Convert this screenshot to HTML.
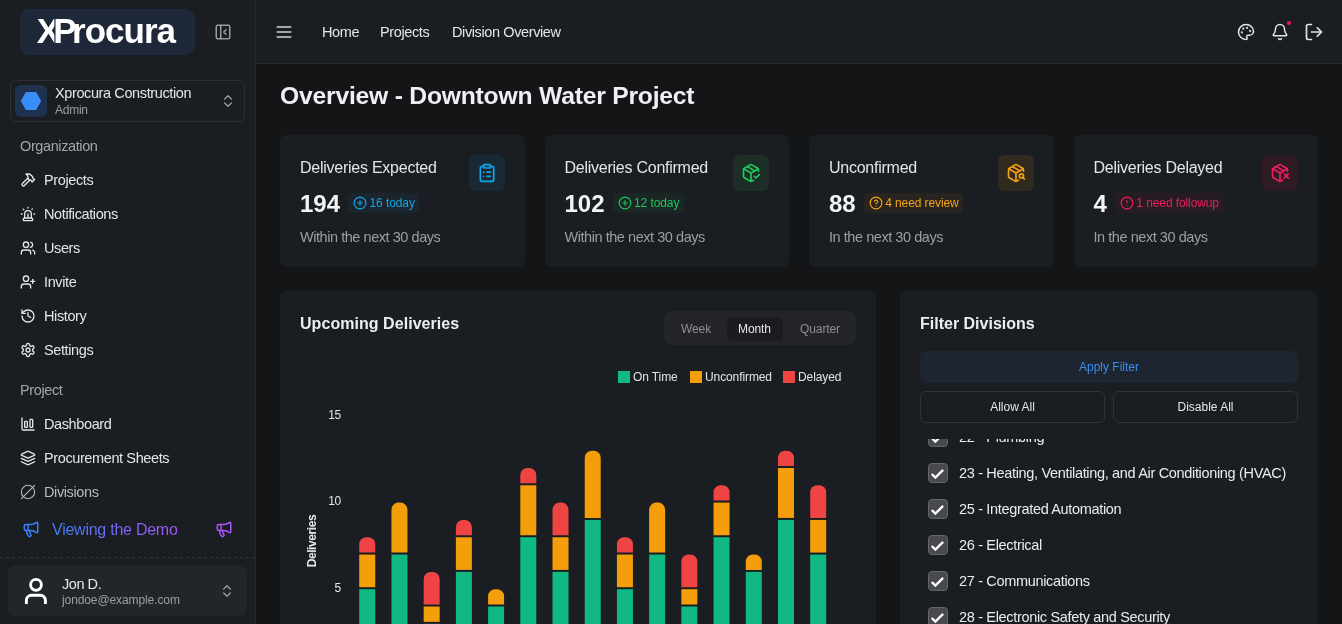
<!DOCTYPE html>
<html><head><meta charset="utf-8"><title>Overview - Downtown Water Project</title>
<style>
*{box-sizing:border-box;margin:0;padding:0}
html,body{width:1342px;height:624px;overflow:hidden}
body{-webkit-font-smoothing:antialiased;letter-spacing:-0.25px;background:#141517;font-family:"Liberation Sans",Arial,sans-serif;color:#e4e5e7;position:relative}
.abs{position:absolute}
svg.i{fill:none;stroke:currentColor;stroke-width:2;stroke-linecap:round;stroke-linejoin:round;display:block}
/* sidebar */
#sb{position:absolute;left:0;top:0;width:256px;height:624px;background:#1a1d21;border-right:1px solid #26292d}
#logo{position:absolute;left:20px;top:9px;width:175px;height:46px;background:#1e2838;border-radius:9px}
#logo .lt{position:absolute;left:16.7px;top:1.7px;font-weight:bold;font-size:35px;line-height:normal;color:#fff;letter-spacing:-1px;white-space:nowrap}#logo .lx{margin-right:-5.8px}#logo .lp{margin-right:-3.5px;text-shadow:-1.3px 0 0 #1e2838}
#team{position:absolute;left:10px;top:80px;width:235px;height:42px;border:1px solid #2c2f35;border-radius:6px}
.nav{position:absolute;left:20px;font-size:14.5px;margin-top:-0.45px;color:#e4e5e7;white-space:nowrap;letter-spacing:-0.39px}
.nav svg{position:absolute;left:0;top:0.45px}
.nav span{position:absolute;left:24px;top:0}
.grp{position:absolute;left:20px;font-size:14.5px;margin-top:-0.45px;color:#a3a5aa;letter-spacing:-0.39px}
/* header */
#hd{position:absolute;left:256px;top:0;width:1086px;height:64px;background:#1a1d21;border-bottom:1px solid #26292d}
.hl{position:absolute;top:24px;font-size:14.5px;margin-top:-0.45px;color:#e4e5e7;letter-spacing:-0.39px}
/* cards */
.card{position:absolute;background:#1a1d21;border-radius:6px}
.ct{position:absolute;left:20px;top:24px;font-size:16px;color:#e4e5e7}
.row{position:absolute;left:20px;top:55px;display:flex;align-items:center;gap:8px;height:28px}.cn{font-size:24px;font-weight:bold;color:#f2f3f5;letter-spacing:0}
.cs{position:absolute;left:20px;top:94px;font-size:14.5px;margin-top:-0.45px;color:#9c9ea3;letter-spacing:-0.45px}
.ib{position:absolute;right:20px;top:20px;width:36px;height:36px;border-radius:6px}
.ib svg{position:absolute;left:8px;top:8px}
.bd{position:relative;top:-1px;height:20px;letter-spacing:-0.1px;border-radius:4px;font-size:12px;line-height:20px;padding-left:21.5px;padding-right:4.5px;white-space:nowrap}
.bd svg{position:absolute;left:5px;top:3px}
.seg{font-size:12px;white-space:nowrap;letter-spacing:-0.1px}
.leg{top:370px;font-size:12px;color:#e4e5e7;white-space:nowrap;letter-spacing:-0.1px}
.tick{left:300px;width:41px;text-align:right;font-size:12px;color:#e4e5e7}
.btn{letter-spacing:0;top:391px;width:185px;height:32px;border:1px solid #2f3237;border-radius:6px;font-size:12px;text-align:center;line-height:30px;color:#e4e5e7}
.cb{position:absolute;left:28px;width:20px;height:20px;border-radius:4px;background:#484a4f;border:1px solid #63666b}
.cb svg{position:absolute;left:-1px;top:-1px}
.rt{left:60px;font-size:14.5px;margin-top:-0.45px;color:#eaecef;white-space:nowrap;letter-spacing:-0.33px}
</style></head>
<body><div id="root" style="position:absolute;left:0;top:0;width:1342px;height:624px;will-change:transform">
<div id="sb">
  <div id="logo"><div class="lt"><span class="lx">X</span><span class="lp">P</span>rocura</div></div>
  <svg class="i abs" style="left:214px;top:23px;color:#9a9ca1" width="18" height="18" viewBox="0 0 24 24"><rect width="18" height="18" x="3" y="3" rx="2"/><path d="M9 3v18"/><path d="m16 15-3-3 3-3"/></svg>
  <div id="team">
    <div class="abs" style="left:4px;top:4px;width:32px;height:32px;border-radius:6px;background:#1e3250"></div>
    <svg class="abs" style="left:10px;top:10px" width="20" height="20" viewBox="0 0 20 20"><path d="M5.6 2.1h8.8l4.4 7.9-4.4 7.9h-8.8L1.2 10z" fill="#3b8df9" stroke="#3b8df9" stroke-width="2.4" stroke-linejoin="round"/></svg>
    <div class="abs" style="left:44px;top:4px;font-size:14.5px;margin-top:-0.45px;color:#e4e5e7;white-space:nowrap;letter-spacing:-0.39px">Xprocura Construction</div>
    <div class="abs" style="left:44px;top:22px;font-size:12px;color:#9c9ea3">Admin</div>
    <svg class="i abs" style="left:209px;top:12px;color:#9a9ca1" width="16" height="16" viewBox="0 0 24 24"><path d="m7 15 5 5 5-5"/><path d="m7 9 5-5 5 5"/></svg>
  </div>
  <div class="grp" style="top:138px">Organization</div>
  <div class="nav" style="top:172px"><svg class="i" width="16" height="16" viewBox="0 0 24 24"><path d="m15 12-8.373 8.373a1 1 0 1 1-3-3L12 9"/><path d="m18 15 4-4"/><path d="m21.5 11.5-1.914-1.914A2 2 0 0 1 19 8.172V7l-2.26-2.26a6 6 0 0 0-4.202-1.756L9 2.96l.92.82A6.18 6.18 0 0 1 12 8.4V10l2 2h1.172a2 2 0 0 1 1.414.586L18.5 14.5"/></svg><span>Projects</span></div>
  <div class="nav" style="top:206px"><svg class="i" width="16" height="16" viewBox="0 0 24 24"><path d="M7 18v-6a5 5 0 1 1 10 0v6"/><path d="M5 21a1 1 0 0 0 1 1h12a1 1 0 0 0 1-1v-1a2 2 0 0 0-2-2H7a2 2 0 0 0-2 2z"/><path d="M21 12h1"/><path d="M18.5 4.5 18 5"/><path d="M2 12h1"/><path d="M12 2v1"/><path d="m4.929 4.929.707.707"/><path d="M12 12v6"/></svg><span>Notifications</span></div>
  <div class="nav" style="top:240px"><svg class="i" width="16" height="16" viewBox="0 0 24 24"><path d="M16 21v-2a4 4 0 0 0-4-4H6a4 4 0 0 0-4 4v2"/><circle cx="9" cy="7" r="4"/><path d="M22 21v-2a4 4 0 0 0-3-3.87"/><path d="M16 3.13a4 4 0 0 1 0 7.75"/></svg><span>Users</span></div>
  <div class="nav" style="top:274px"><svg class="i" width="16" height="16" viewBox="0 0 24 24"><path d="M16 21v-2a4 4 0 0 0-4-4H6a4 4 0 0 0-4 4v2"/><circle cx="9" cy="7" r="4"/><path d="M19 8v6"/><path d="M22 11h-6"/></svg><span>Invite</span></div>
  <div class="nav" style="top:308px"><svg class="i" width="16" height="16" viewBox="0 0 24 24"><path d="M3 12a9 9 0 1 0 9-9 9.75 9.75 0 0 0-6.74 2.74L3 8"/><path d="M3 3v5h5"/><path d="M12 7v5l4 2"/></svg><span>History</span></div>
  <div class="nav" style="top:342px"><svg class="i" width="16" height="16" viewBox="0 0 24 24"><path d="M12.22 2h-.44a2 2 0 0 0-2 2v.18a2 2 0 0 1-1 1.73l-.43.25a2 2 0 0 1-2 0l-.15-.08a2 2 0 0 0-2.730.73l-.22.38a2 2 0 0 0 .73 2.73l.15.1a2 2 0 0 1 1 1.72v.51a2 2 0 0 1-1 1.740l-.15.09a2 2 0 0 0-.73 2.73l.22.38a2 2 0 0 0 2.73.73l.15-.08a2 2 0 0 1 2 0l.43.25a2 2 0 0 1 1 1.73V20a2 2 0 0 0 2 2h.44a2 2 0 0 0 2-2v-.18a2 2 0 0 1 1-1.73l.43-.25a2 2 0 0 1 2 0l.15.08a2 2 0 0 0 2.73-.73l.22-.39a2 2 0 0 0-.73-2.73l-.15-.08a2 2 0 0 1-1-1.74v-.5a2 2 0 0 1 1-1.74l.15-.09a2 2 0 0 0 .73-2.73l-.22-.38a2 2 0 0 0-2.73-.73l-.15.08a2 2 0 0 1-2 0l-.43-.25a2 2 0 0 1-1-1.73V4a2 2 0 0 0-2-2z"/><circle cx="12" cy="12" r="3"/></svg><span>Settings</span></div>
  <div class="grp" style="top:382px">Project</div>
  <div class="nav" style="top:416px"><svg class="i" width="16" height="16" viewBox="0 0 24 24"><path d="M3 3v16a2 2 0 0 0 2 2h16"/><rect x="15" y="5" width="4" height="12" rx="1"/><rect x="7" y="8" width="4" height="9" rx="1"/></svg><span>Dashboard</span></div>
  <div class="nav" style="top:450px"><svg class="i" width="16" height="16" viewBox="0 0 24 24"><path d="M12.83 2.18a2 2 0 0 0-1.66 0L2.6 6.08a1 1 0 0 0 0 1.83l8.58 3.91a2 2 0 0 0 1.66 0l8.58-3.9a1 1 0 0 0 0-1.83Z"/><path d="m22 17.65-9.17 4.16a2 2 0 0 1-1.66 0L2 17.65"/><path d="m22 12.65-9.17 4.16a2 2 0 0 1-1.66 0L2 12.65"/></svg><span>Procurement Sheets</span></div>
  <div class="nav" style="top:484px;color:#b8babe"><svg class="i" width="16" height="16" viewBox="0 0 24 24" style="stroke-width:1.6"><circle cx="12" cy="12" r="10"/><path d="M22 2 2 22"/></svg><span>Divisions</span></div>
  <svg class="i abs" style="left:22px;top:520px;color:#3b82f6" width="18" height="18" viewBox="0 0 24 24"><path d="M11 6a13 13 0 0 0 8.4-2.8A1 1 0 0 1 21 4v12a1 1 0 0 1-1.6.8A13 13 0 0 0 11 14H5a2 2 0 0 1-2-2V8a2 2 0 0 1 2-2z"/><path d="M6 14a12 12 0 0 0 2.4 7.2 2 2 0 0 0 3.2-2.4A8 8 0 0 1 10 14"/><path d="M8 6v8"/></svg>
  <div class="abs" style="left:52px;top:521px;font-size:16px;white-space:nowrap;background:linear-gradient(90deg,#3b82f6,#a855f7);-webkit-background-clip:text;background-clip:text;color:transparent">Viewing the Demo</div>
  <svg class="i abs" style="left:215px;top:520px;color:#a855f7" width="18" height="18" viewBox="0 0 24 24"><path d="M11 6a13 13 0 0 0 8.4-2.8A1 1 0 0 1 21 4v12a1 1 0 0 1-1.6.8A13 13 0 0 0 11 14H5a2 2 0 0 1-2-2V8a2 2 0 0 1 2-2z"/><path d="M6 14a12 12 0 0 0 2.4 7.2 2 2 0 0 0 3.2-2.4A8 8 0 0 1 10 14"/><path d="M8 6v8"/></svg>
  <div class="abs" style="left:0;top:557px;width:255px;height:1px;background:repeating-linear-gradient(90deg,#303338 0 3px,transparent 3px 6px)"></div>
  <div class="abs" style="left:8px;top:566px;width:239px;height:50px;background:#22252a;border-radius:7px">
    <svg class="abs" style="left:-8px;top:-566px" width="60" height="624" viewBox="0 0 60 624" fill="none" stroke="#fff" stroke-width="2.9"><circle cx="36" cy="584.8" r="5.4"/><path d="M26.4 604V600.2A5 5 0 0 1 31.4 595.2H40.4A5 5 0 0 1 45.4 600.2V604"/></svg>
    <div class="abs" style="left:54px;top:10px;font-size:14.5px;margin-top:-0.45px;letter-spacing:-0.45px;color:#e4e5e7">Jon D.</div>
    <div class="abs" style="left:54px;top:27px;font-size:12px;color:#9c9ea3;letter-spacing:-0.1px">jondoe@example.com</div>
    <svg class="i abs" style="left:211px;top:17px;color:#9a9ca1" width="16" height="16" viewBox="0 0 24 24"><path d="m7 15 5 5 5-5"/><path d="m7 9 5-5 5 5"/></svg>
  </div>
</div>
<div id="hd">
  <svg class="i abs" style="left:18px;top:22px;color:#d4d5d8" width="20" height="20" viewBox="0 0 24 24"><path d="M4 12h16"/><path d="M4 6h16"/><path d="M4 18h16"/></svg>
  <div class="hl" style="left:66px">Home</div>
  <div class="hl" style="left:124px">Projects</div>
  <div class="hl" style="left:196px">Division Overview</div>
  <svg class="i abs" style="left:981px;top:23px;color:#e4e5e7" width="18" height="18" viewBox="0 0 24 24"><circle cx="13.5" cy="6.5" r=".5" fill="currentColor"/><circle cx="17.5" cy="10.5" r=".5" fill="currentColor"/><circle cx="8.5" cy="7.5" r=".5" fill="currentColor"/><circle cx="6.5" cy="12.5" r=".5" fill="currentColor"/><path d="M12 2C6.5 2 2 6.5 2 12s4.5 10 10 10c.926 0 1.648-.746 1.648-1.688 0-.437-.18-.835-.437-1.125-.29-.289-.438-.652-.438-1.125a1.640 1.640 0 0 1 1.668-1.668h1.996c3.051 0 5.555-2.503 5.555-5.554C21.965 6.012 17.461 2 12 2z"/></svg>
  <svg class="i abs" style="left:1014.5px;top:23px;color:#e4e5e7" width="18" height="18" viewBox="0 0 24 24"><path d="M10.268 21a2 2 0 0 0 3.464 0"/><path d="M3.262 15.326A1 1 0 0 0 4 17h16a1 1 0 0 0 .74-1.673C19.41 13.956 18 12.499 18 8A6 6 0 0 0 6 8c0 4.499-1.411 5.956-2.738 7.326"/></svg>
  <div class="abs" style="left:1030.8px;top:20.8px;width:4.4px;height:4.4px;border-radius:50%;background:#f0145a"></div>
  <svg class="i abs" style="left:1048px;top:22px;color:#e4e5e7" width="20" height="20" viewBox="0 0 24 24"><path d="M9 21H5a2 2 0 0 1-2-2V5a2 2 0 0 1 2-2h4"/><path d="m16 17 5-5-5-5"/><path d="M21 12H9"/></svg>
</div>
<div class="abs" style="left:280px;top:82px;font-size:24.7px;font-weight:bold;color:#eef0f3;white-space:nowrap;letter-spacing:-0.22px">Overview - Downtown Water Project</div>
<div class="card" style="left:280px;top:135px;width:244.5px;height:132px">
  <div class="ct">Deliveries Expected</div>
  <div class="ib" style="background:#192a35;color:#12a6ec"><svg class="i" width="20" height="20" viewBox="0 0 24 24"><rect width="8" height="4" x="8" y="2" rx="1" ry="1"/><path d="M16 4h2a2 2 0 0 1 2 2v14a2 2 0 0 1-2 2H6a2 2 0 0 1-2-2V6a2 2 0 0 1 2-2h2"/><path d="M12 11h4"/><path d="M12 16h4"/><path d="M8 11h.01"/><path d="M8 16h.01"/></svg></div>
  <div class="row"><div class="cn">194</div><div class="bd" style="background:#1a252d;color:#12a6ec"><svg class="i" width="14" height="14" viewBox="0 0 24 24"><circle cx="12" cy="12" r="10"/><path d="M8 12h8"/><path d="M12 8v8"/></svg>16 today</div></div>
  <div class="cs">Within the next 30 days</div>
</div>
<div class="card" style="left:544.5px;top:135px;width:244.5px;height:132px">
  <div class="ct">Deliveries Confirmed</div>
  <div class="ib" style="background:#1c2e26;color:#1dc85c"><svg class="i" width="20" height="20" viewBox="0 0 24 24"><path d="m16 16 2 2 4-4"/><path d="M21 10V8a2 2 0 0 0-1-1.73l-7-4a2 2 0 0 0-2 0l-7 4A2 2 0 0 0 3 8v8a2 2 0 0 0 1 1.73l7 4a2 2 0 0 0 2 0l2-1.14"/><path d="m7.5 4.27 9 5.15"/><path d="M3.29 7 12 12l8.71-5"/><path d="M12 22V12"/></svg></div>
  <div class="row"><div class="cn">102</div><div class="bd" style="background:#1b2724;color:#1dc85c"><svg class="i" width="14" height="14" viewBox="0 0 24 24"><circle cx="12" cy="12" r="10"/><path d="M8 12h8"/><path d="M12 8v8"/></svg>12 today</div></div>
  <div class="cs">Within the next 30 days</div>
</div>
<div class="card" style="left:809px;top:135px;width:244.5px;height:132px">
  <div class="ct">Unconfirmed</div>
  <div class="ib" style="background:#312a1f;color:#f5a314"><svg class="i" width="20" height="20" viewBox="0 0 24 24"><path d="M21 10V8a2 2 0 0 0-1-1.73l-7-4a2 2 0 0 0-2 0l-7 4A2 2 0 0 0 3 8v8a2 2 0 0 0 1 1.73l7 4a2 2 0 0 0 2 0l2-1.14"/><path d="m7.5 4.27 9 5.15"/><path d="M3.29 7 12 12l8.71-5"/><path d="M12 22V12"/><circle cx="18.5" cy="15.5" r="2.5"/><path d="M20.27 17.27 22 19"/></svg></div>
  <div class="row"><div class="cn">88</div><div class="bd" style="background:#28241f;color:#f5a314"><svg class="i" width="14" height="14" viewBox="0 0 24 24"><circle cx="12" cy="12" r="10"/><path d="M9.09 9a3 3 0 0 1 5.83 1c0 2-3 3-3 3"/><path d="M12 17h.01"/></svg>4 need review</div></div>
  <div class="cs">In the next 30 days</div>
</div>
<div class="card" style="left:1073.5px;top:135px;width:244.5px;height:132px">
  <div class="ct">Deliveries Delayed</div>
  <div class="ib" style="background:#2f1b24;color:#ee1d62"><svg class="i" width="20" height="20" viewBox="0 0 24 24"><path d="M21 10V8a2 2 0 0 0-1-1.73l-7-4a2 2 0 0 0-2 0l-7 4A2 2 0 0 0 3 8v8a2 2 0 0 0 1 1.73l7 4a2 2 0 0 0 2 0l2-1.14"/><path d="m7.5 4.27 9 5.15"/><path d="M3.29 7 12 12l8.71-5"/><path d="M12 22V12"/><path d="m17 13 5 5m-5 0 5-5"/></svg></div>
  <div class="row"><div class="cn">4</div><div class="bd" style="background:#281c23;color:#ee1d62"><svg class="i" width="14" height="14" viewBox="0 0 24 24"><circle cx="12" cy="12" r="10"/><path d="M12 8v4"/><path d="M12 16h.01"/></svg>1 need followup</div></div>
  <div class="cs">In the next 30 days</div>
</div>
<div class="card" style="left:280px;top:291px;width:596px;height:400px;border-radius:6px"></div>
<div class="abs" style="left:300px;top:315px;font-size:16px;font-weight:bold;color:#eceef0;white-space:nowrap;letter-spacing:0.05px">Upcoming Deliveries</div>
<div class="abs" style="left:664px;top:311px;width:192px;height:34px;background:#222429;border-radius:8px">
  <div class="abs" style="left:63px;top:6px;width:56px;height:24px;background:#1a1c20;border-radius:6px"></div>
  <div class="abs seg" style="left:17px;top:11px;color:#8e9096">Week</div>
  <div class="abs seg" style="left:74px;top:11px;color:#e4e5e7">Month</div>
  <div class="abs seg" style="left:136px;top:11px;color:#8e9096">Quarter</div>
</div>
<div class="abs" style="left:618px;top:371px;width:12px;height:12px;background:#10b981"></div>
<div class="abs leg" style="left:633px">On Time</div>
<div class="abs" style="left:690px;top:371px;width:12px;height:12px;background:#f59e0b"></div>
<div class="abs leg" style="left:705px">Unconfirmed</div>
<div class="abs" style="left:783px;top:371px;width:12px;height:12px;background:#ef4444"></div>
<div class="abs leg" style="left:798px">Delayed</div>
<div class="abs tick" style="top:408px">15</div>
<div class="abs tick" style="top:494px">10</div>
<div class="abs tick" style="top:581px">5</div>
<div class="abs" style="left:312px;top:541px;width:0;height:0"><div class="abs" style="left:-30px;top:-7px;width:60px;text-align:center;transform:rotate(-90deg);font-size:12px;font-weight:bold;color:#e4e5e7;letter-spacing:-0.4px">Deliveries</div></div>
<svg class="abs" style="left:0;top:0" width="1342" height="624" viewBox="0 0 1342 624"><rect x="359.25" y="589.20" width="16" height="84.60" fill="#10b981"/><rect x="359.25" y="554.56" width="16" height="32.64" fill="#f59e0b"/><path d="M359.25 552.56V544.24A7 7 0 0 1 366.25 537.24H368.25A7 7 0 0 1 375.25 544.24V552.56Z" fill="#ef4444"/><rect x="391.46" y="554.56" width="16" height="119.24" fill="#10b981"/><path d="M391.46 552.56V509.60A7 7 0 0 1 398.46 502.60H400.46A7 7 0 0 1 407.46 509.60V552.56Z" fill="#f59e0b"/><rect x="423.67" y="623.84" width="16" height="49.96" fill="#10b981"/><rect x="423.67" y="606.52" width="16" height="15.32" fill="#f59e0b"/><path d="M423.67 604.52V578.88A7 7 0 0 1 430.67 571.88H432.67A7 7 0 0 1 439.67 578.88V604.52Z" fill="#ef4444"/><rect x="455.88" y="571.88" width="16" height="101.92" fill="#10b981"/><rect x="455.88" y="537.24" width="16" height="32.64" fill="#f59e0b"/><path d="M455.88 535.24V526.92A7 7 0 0 1 462.88 519.92H464.88A7 7 0 0 1 471.88 526.92V535.24Z" fill="#ef4444"/><rect x="488.09" y="606.52" width="16" height="67.28" fill="#10b981"/><path d="M488.09 604.52V596.20A7 7 0 0 1 495.09 589.20H497.09A7 7 0 0 1 504.09 596.20V604.52Z" fill="#f59e0b"/><rect x="520.30" y="537.24" width="16" height="136.56" fill="#10b981"/><rect x="520.30" y="485.28" width="16" height="49.96" fill="#f59e0b"/><path d="M520.30 483.28V474.96A7 7 0 0 1 527.30 467.96H529.30A7 7 0 0 1 536.30 474.96V483.28Z" fill="#ef4444"/><rect x="552.51" y="571.88" width="16" height="101.92" fill="#10b981"/><rect x="552.51" y="537.24" width="16" height="32.64" fill="#f59e0b"/><path d="M552.51 535.24V509.60A7 7 0 0 1 559.51 502.60H561.51A7 7 0 0 1 568.51 509.60V535.24Z" fill="#ef4444"/><rect x="584.72" y="519.92" width="16" height="153.88" fill="#10b981"/><path d="M584.72 517.92V457.64A7 7 0 0 1 591.72 450.64H593.72A7 7 0 0 1 600.72 457.64V517.92Z" fill="#f59e0b"/><rect x="616.93" y="589.20" width="16" height="84.60" fill="#10b981"/><rect x="616.93" y="554.56" width="16" height="32.64" fill="#f59e0b"/><path d="M616.93 552.56V544.24A7 7 0 0 1 623.93 537.24H625.93A7 7 0 0 1 632.93 544.24V552.56Z" fill="#ef4444"/><rect x="649.14" y="554.56" width="16" height="119.24" fill="#10b981"/><path d="M649.14 552.56V509.60A7 7 0 0 1 656.14 502.60H658.14A7 7 0 0 1 665.14 509.60V552.56Z" fill="#f59e0b"/><rect x="681.35" y="606.52" width="16" height="67.28" fill="#10b981"/><rect x="681.35" y="589.20" width="16" height="15.32" fill="#f59e0b"/><path d="M681.35 587.20V561.56A7 7 0 0 1 688.35 554.56H690.35A7 7 0 0 1 697.35 561.56V587.20Z" fill="#ef4444"/><rect x="713.56" y="537.24" width="16" height="136.56" fill="#10b981"/><rect x="713.56" y="502.60" width="16" height="32.64" fill="#f59e0b"/><path d="M713.56 500.60V492.28A7 7 0 0 1 720.56 485.28H722.56A7 7 0 0 1 729.56 492.28V500.60Z" fill="#ef4444"/><rect x="745.77" y="571.88" width="16" height="101.92" fill="#10b981"/><path d="M745.77 569.88V561.56A7 7 0 0 1 752.77 554.56H754.77A7 7 0 0 1 761.77 561.56V569.88Z" fill="#f59e0b"/><rect x="777.98" y="519.92" width="16" height="153.88" fill="#10b981"/><rect x="777.98" y="467.96" width="16" height="49.96" fill="#f59e0b"/><path d="M777.98 465.96V457.64A7 7 0 0 1 784.98 450.64H786.98A7 7 0 0 1 793.98 457.64V465.96Z" fill="#ef4444"/><rect x="810.19" y="554.56" width="16" height="119.24" fill="#10b981"/><rect x="810.19" y="519.92" width="16" height="32.64" fill="#f59e0b"/><path d="M810.19 517.92V492.28A7 7 0 0 1 817.19 485.28H819.19A7 7 0 0 1 826.19 492.28V517.92Z" fill="#ef4444"/></svg>
<div class="card" style="left:900px;top:291px;width:418px;height:400px;border-radius:6px"></div>
<div class="abs" style="left:920px;top:315px;font-size:16px;font-weight:bold;color:#eceef0;white-space:nowrap;letter-spacing:0px">Filter Divisions</div>
<div class="abs" style="left:920px;top:351px;width:378px;height:32px;background:#1d2530;border-radius:6px;color:#3b8bf0;font-size:12px;letter-spacing:0;text-align:center;line-height:32px">Apply Filter</div>
<div class="abs btn" style="left:920px">Allow All</div>
<div class="abs btn" style="left:1113px">Disable All</div>
<div class="abs" style="left:900px;top:439px;width:418px;height:185px;overflow:hidden"><div class="cb" style="top:-12px"><svg width="20" height="20" viewBox="0 0 20 20" fill="none" stroke="#fff" stroke-width="2.3" stroke-linecap="butt" stroke-linejoin="miter"><path d="M3.8 11 7.4 14.6 15.1 6.9"/></svg></div><div class="abs rt" style="left:59px;top:-10px">22 - Plumbing</div><div class="cb" style="top:24px"><svg width="20" height="20" viewBox="0 0 20 20" fill="none" stroke="#fff" stroke-width="2.3" stroke-linecap="butt" stroke-linejoin="miter"><path d="M3.8 11 7.4 14.6 15.1 6.9"/></svg></div><div class="abs rt" style="left:59px;top:26px">23 - Heating, Ventilating, and Air Conditioning (HVAC)</div><div class="cb" style="top:60px"><svg width="20" height="20" viewBox="0 0 20 20" fill="none" stroke="#fff" stroke-width="2.3" stroke-linecap="butt" stroke-linejoin="miter"><path d="M3.8 11 7.4 14.6 15.1 6.9"/></svg></div><div class="abs rt" style="left:59px;top:62px">25 - Integrated Automation</div><div class="cb" style="top:96px"><svg width="20" height="20" viewBox="0 0 20 20" fill="none" stroke="#fff" stroke-width="2.3" stroke-linecap="butt" stroke-linejoin="miter"><path d="M3.8 11 7.4 14.6 15.1 6.9"/></svg></div><div class="abs rt" style="left:59px;top:98px">26 - Electrical</div><div class="cb" style="top:132px"><svg width="20" height="20" viewBox="0 0 20 20" fill="none" stroke="#fff" stroke-width="2.3" stroke-linecap="butt" stroke-linejoin="miter"><path d="M3.8 11 7.4 14.6 15.1 6.9"/></svg></div><div class="abs rt" style="left:59px;top:134px">27 - Communications</div><div class="cb" style="top:168px"><svg width="20" height="20" viewBox="0 0 20 20" fill="none" stroke="#fff" stroke-width="2.3" stroke-linecap="butt" stroke-linejoin="miter"><path d="M3.8 11 7.4 14.6 15.1 6.9"/></svg></div><div class="abs rt" style="left:59px;top:170px">28 - Electronic Safety and Security</div></div>
</div></body></html>
